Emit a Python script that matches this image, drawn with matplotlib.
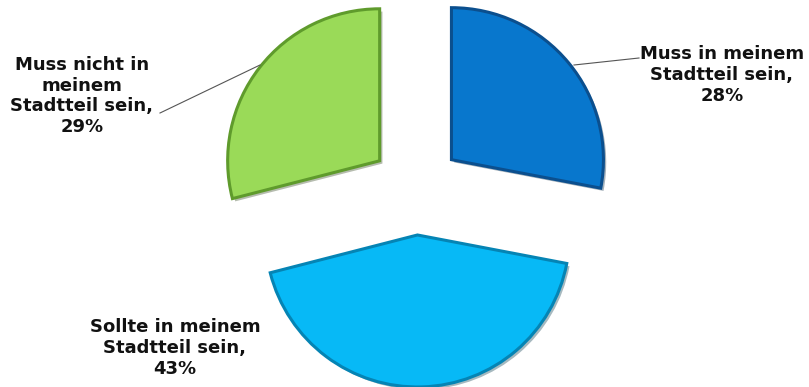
"""
plot.py - exploded pie of where the facility should be (Stadtteil survey).
"""

import matplotlib
matplotlib.use("Agg")
import matplotlib.pyplot as plt
import matplotlib.patheffects as pe

LABELS = ["Muss in meinem\nStadtteil sein,\n28%",
          "Sollte in meinem\nStadtteil sein,\n43%",
          "Muss nicht in\nmeinem\nStadtteil sein,\n29%"]
SHARES = [28, 43, 29]
COLORS = ["#0877CD", "#07B9F6", "#9ADA58"]
EDGES  = ["#0B4F8E", "#0584B4", "#5F9B2C"]

# label anchor (pixel coords, y from bottom) and leader line start on the wedge
LABEL_POS = [(722, 312), (175, 39), (82, 291)]
LEADER    = [((574, 322), (639, 329)), None, ((260, 322), (160, 274))]


fig = plt.figure(figsize=(8.09, 3.87), dpi=100)
ax = fig.add_axes([0, 0, 1, 1])

# explode is in data units here (pixels), since radius is in pixels
wedges, _ = ax.pie(SHARES, colors=COLORS, startangle=90, counterclock=False,
                   explode=[46] * 3, center=(416, 198), radius=152,
                   wedgeprops=dict(linewidth=2.2))

for w, ec in zip(wedges, EDGES):
    w.set_edgecolor(ec)
    w.set_path_effects([pe.SimplePatchShadow(offset=(2, -2), alpha=0.35),
                        pe.Normal()])

for text, (x, y), line in zip(LABELS, LABEL_POS, LEADER):
    ax.text(x, y, text, ha="center", va="center", fontsize=13,
            fontweight="bold", linespacing=1.2, color="#111111",
            family="DejaVu Sans")
    if line:
        (x0, y0), (x1, y1) = line
        ax.plot([x0, x1], [y0, y1], color="#555555", linewidth=0.8)

ax.set_xlim(0, 809)
ax.set_ylim(0, 387)
ax.set_aspect("equal")
ax.axis("off")

fig.savefig("out.png", dpi=100, facecolor="white")
plt.close(fig)
